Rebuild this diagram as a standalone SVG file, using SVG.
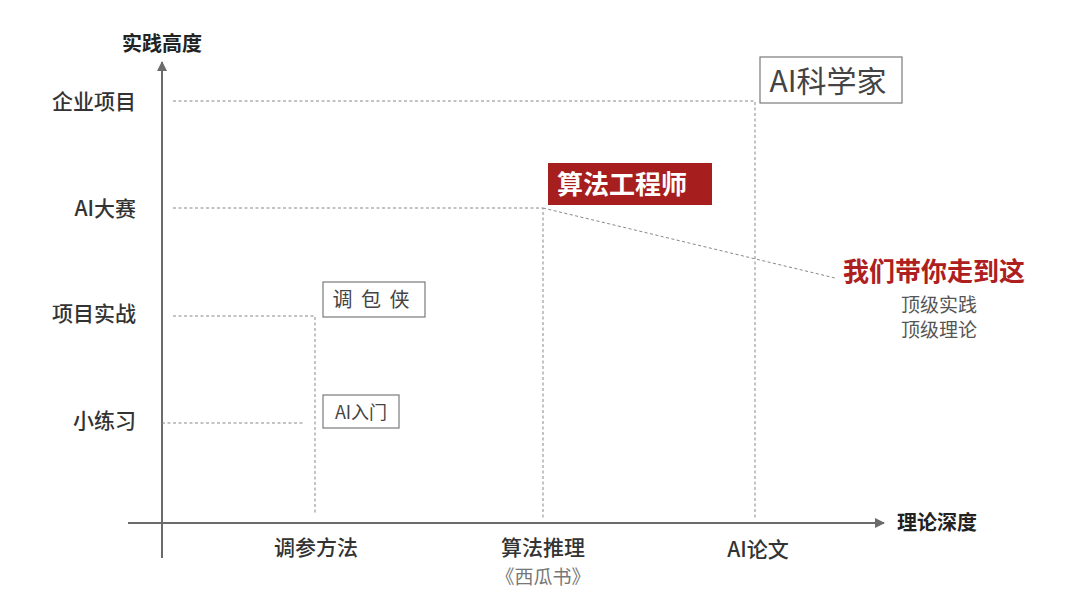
<svg xmlns="http://www.w3.org/2000/svg" width="1080" height="608" viewBox="0 0 1080 608">
<style>
text{font-family:"Noto Sans CJK SC","Liberation Sans",sans-serif;}
.ax{stroke:#6b6b6b;stroke-width:2;fill:none;}
.dash{stroke:#888;stroke-width:1;stroke-dasharray:3,2.5;fill:none;}
.ylab{font-size:21px;fill:#333;text-anchor:end;font-weight:500;}
.xlab{font-size:21px;fill:#333;text-anchor:middle;font-weight:500;}
.axt{font-size:20px;fill:#222;font-weight:bold;}
.box{fill:#fff;stroke:#7a7a7a;stroke-width:1.2;}
.bt{fill:#444;}
</style>
<defs>
<marker id="arr" viewBox="0 0 10 10" refX="9" refY="5" markerWidth="5" markerHeight="5" orient="auto" markerUnits="strokeWidth">
<path d="M0,0 L10,5 L0,10 z" fill="#6b6b6b"/>
</marker>
</defs>
<rect width="1080" height="608" fill="#fff"/>
<g id="connectors">
<line class="ax" x1="162" y1="558" x2="162" y2="62" marker-end="url(#arr)"/>
<line class="ax" x1="128" y1="523" x2="884" y2="523" marker-end="url(#arr)"/>
<polyline class="dash" points="173,101 755,101 755,520"/>
<polyline class="dash" points="173,208 543,208 543,520"/>
<line class="dash" x1="543" y1="208" x2="835" y2="278"/>
<polyline class="dash" points="173,316 315,316 315,515"/>
<line class="dash" x1="162" y1="423" x2="305" y2="423"/>
</g>
<g id="axis-labels">
<text class="axt" x="162" y="51" text-anchor="middle">实践高度</text>
<text class="axt" x="897" y="530">理论深度</text>
</g>
<g id="y-labels">
<text class="ylab" x="136" y="109">企业项目</text>
<text class="ylab" x="136" y="216">AI大赛</text>
<text class="ylab" x="136" y="321">项目实战</text>
<text class="ylab" x="136" y="428">小练习</text>
</g>
<g id="x-labels">
<text class="xlab" x="316" y="555">调参方法</text>
<text class="xlab" x="543" y="555">算法推理</text>
<text x="543" y="584" text-anchor="middle" font-size="19" fill="#777">《西瓜书》</text>
<text class="xlab" x="758" y="557">AI论文</text>
</g>
<g id="node-ai-scientist">
<rect class="box" x="760" y="57" width="142" height="46"/>
<text class="bt" x="828" y="92" text-anchor="middle" font-size="30">AI科学家</text>
</g>
<g id="node-algo-engineer">
<rect x="548" y="163" width="164" height="42" fill="#A61E1E"/>
<text x="557" y="194" font-size="26" fill="#fff" font-weight="bold">算法工程师</text>
</g>
<g id="node-tiaobaoxia">
<rect class="box" x="323" y="282" width="102" height="35"/>
<text class="bt" x="372" y="307" text-anchor="middle" font-size="20" letter-spacing="2">调 包 侠</text>
</g>
<g id="node-ai-intro">
<rect class="box" x="323" y="395" width="76" height="33"/>
<text class="bt" x="361" y="419" text-anchor="middle" font-size="18">AI入门</text>
</g>
<g id="node-here">
<text x="934" y="281" text-anchor="middle" font-size="26" font-weight="bold" fill="#AE2020">我们带你走到这</text>
<text x="939" y="312" text-anchor="middle" font-size="19" fill="#555">顶级实践</text>
<text x="939" y="337" text-anchor="middle" font-size="19" fill="#555">顶级理论</text>
</g>
</svg>
